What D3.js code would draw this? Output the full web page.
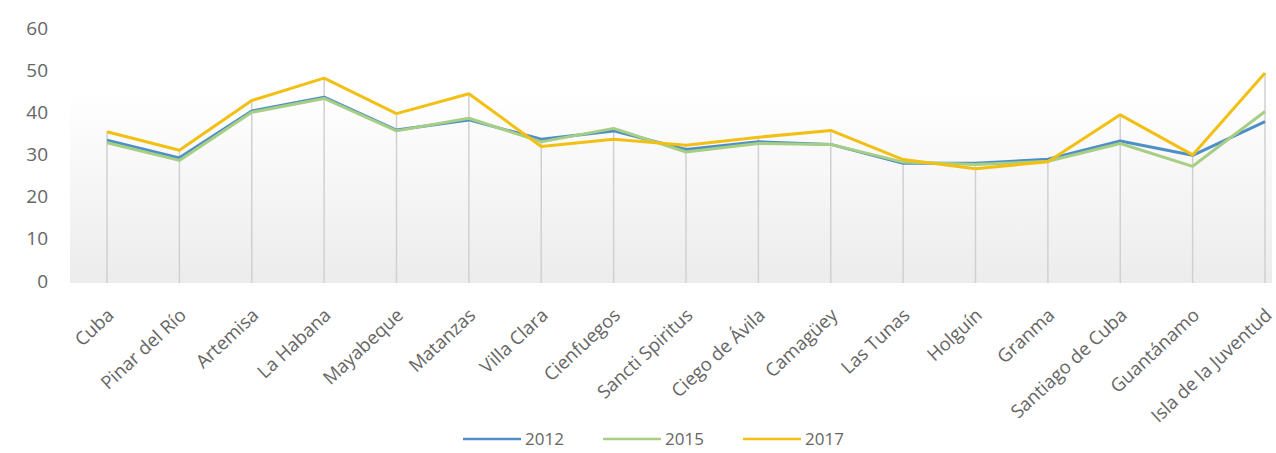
<!DOCTYPE html>
<html>
<head>
<meta charset="utf-8">
<script src="https://cdn.jsdelivr.net/npm/d3@7"></script>
<style>
  body { margin: 0; background: #fff; }
  text { font-family: "Open Sans", sans-serif; fill: #666666; }
</style>
</head>
<body>
<div id="chart"></div>
<script>
// data
var provincias = ["Cuba", "Pinar del Río", "Artemisa", "La Habana", "Mayabeque", "Matanzas",
  "Villa Clara", "Cienfuegos", "Sancti Spiritus", "Ciego de Ávila", "Camagüey", "Las Tunas",
  "Holguín", "Granma", "Santiago de Cuba", "Guantánamo", "Isla de la Juventud"];
var v2012 = [33.4, 29.2, 40.3, 43.6, 35.8, 38.2, 33.6, 35.6, 31.2, 33.0, 32.4, 27.9, 27.9, 28.9, 33.2, 29.8, 37.8];
var v2015 = [32.8, 28.6, 40.0, 43.3, 35.6, 38.6, 33.0, 36.2, 30.6, 32.6, 32.4, 28.2, 27.6, 28.4, 32.6, 27.2, 40.2];
var v2017 = [35.4, 31.0, 42.8, 48.1, 39.7, 44.4, 31.9, 33.6, 32.2, 34.1, 35.7, 28.8, 26.6, 28.3, 39.4, 29.9, 49.3];
var years = ["2012", "2015", "2017"];
var colors = ["#4f8fc8", "#a7cf83", "#f2c014"];
var yTicks = [0, 10, 20, 30, 40, 50, 60];

var series = [v2012, v2015, v2017];

var W = 1276, H = 453;
var margin = {top: 28, right: 11, bottom: 172, left: 107};

var svg = d3.select("#chart").append("svg")
    .attr("width", W)
    .attr("height", H);

var x = d3.scalePoint()
    .domain(provincias)
    .range([margin.left, W - margin.right]);

var y = d3.scaleLinear()
    .domain([0, 60])
    .range([H - margin.bottom, margin.top]);

// soft gradient plot background
var defs = svg.append("defs");
var grad = defs.append("linearGradient")
    .attr("id", "bg").attr("x1", 0).attr("y1", 0).attr("x2", 0).attr("y2", 1);
grad.append("stop").attr("offset", "0%").attr("stop-color", "#ffffff");
grad.append("stop").attr("offset", "100%").attr("stop-color", "#ececec");

svg.append("rect")
    .attr("x", 70)
    .attr("y", y(45))
    .attr("width", W - 74)
    .attr("height", y(0) - y(45) + 2)
    .attr("fill", "url(#bg)");

// drop lines
svg.append("g").selectAll("line")
  .data(provincias)
  .enter().append("line")
    .attr("x1", function(d) { return x(d); })
    .attr("x2", function(d) { return x(d); })
    .attr("y1", function(d, i) { return y(d3.max(series, function(s) { return s[i]; })); })
    .attr("y2", y(0) + 2)
    .attr("stroke", "#d0d0d0")
    .attr("stroke-width", 1.5);

// y axis labels
var yAxis = d3.axisLeft(y).tickValues(yTicks).tickSize(0).tickPadding(0);
var gy = svg.append("g")
    .attr("transform", "translate(" + 48 + ",0)")
    .call(yAxis);
gy.select(".domain").remove();
gy.selectAll("text")
    .style("font-size", "19px")
    .attr("fill", "#666666");

// lines
var line = d3.line()
    .x(function(d, i) { return x(provincias[i]); })
    .y(function(d) { return y(d); });

svg.append("g").selectAll("path")
  .data(series)
  .enter().append("path")
    .attr("d", line)
    .attr("fill", "none")
    .attr("stroke", function(d, i) { return colors[i]; })
    .attr("stroke-width", 3)
    .attr("stroke-linejoin", "round");

// x labels
var xAxis = d3.axisBottom(x).tickSize(0).tickPadding(0);
var gx = svg.append("g")
    .attr("transform", "translate(0," + (y(0) + 31) + ")")
    .call(xAxis);
gx.select(".domain").remove();
gx.selectAll("text")
    .style("font-size", "18.5px")
    .attr("fill", "#666666")
    .attr("text-anchor", "end")
    .attr("y", 0)
    .attr("dy", "0.35em")
    .attr("transform", "translate(3,0) rotate(-43)");

// legend
var legend = svg.append("g")
    .attr("transform", "translate(463," + 439 + ")");
var item = legend.selectAll("g")
  .data(years)
  .enter().append("g")
    .attr("transform", function(d, i) { return "translate(" + (i * 140) + ",0)"; });
item.append("line")
    .attr("x1", 0).attr("x2", 58)
    .attr("stroke", function(d, i) { return colors[i]; })
    .attr("stroke-width", 2.5);
item.append("text")
    .attr("x", 62)
    .attr("dy", "0.35em")
    .style("font-size", "17px")
    .text(function(d) { return d; });
</script>
</body>
</html>
